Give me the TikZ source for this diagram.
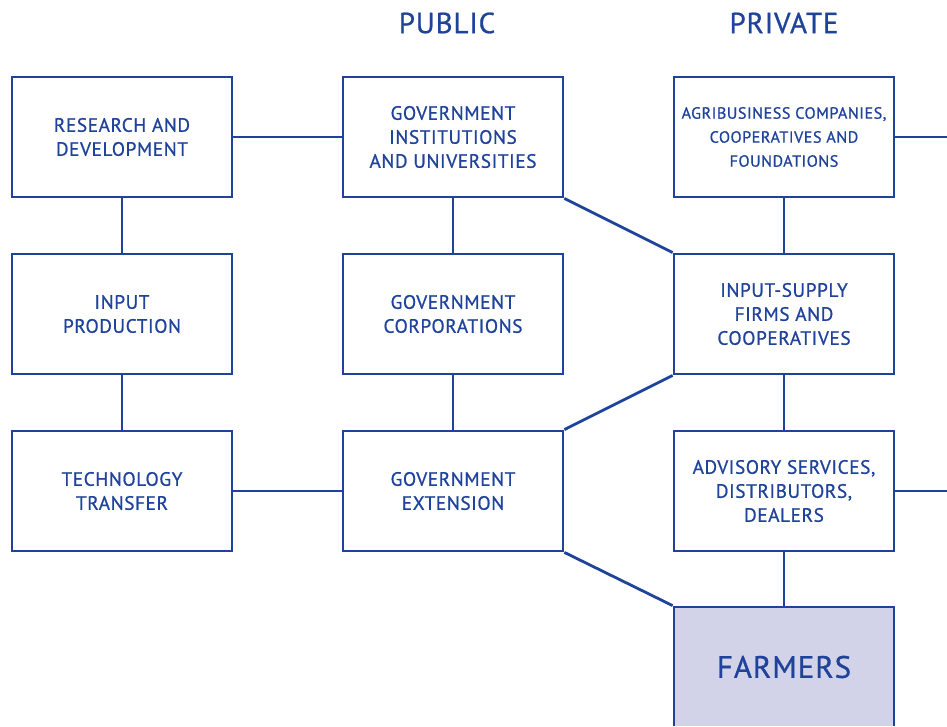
\documentclass[tikz,border=0pt]{standalone}
\usepackage{fontspec}
\setmainfont[LetterSpace=3, FakeBold=0.8]{PT Sans}
\usepackage{xcolor}
\definecolor{faoblue}{HTML}{1F429A}
\definecolor{farmfill}{HTML}{D2D3E8}
\usetikzlibrary{calc}

\begin{document}
\begin{tikzpicture}[
            x=1pt, y=-1pt,
            block/.style={draw=faoblue, line width=2.8pt, rectangle, minimum height=120pt, minimum width=220pt,
                align=center, text=faoblue, font=\fontsize{19.3}{24}\selectfont},
            head/.style={text=faoblue, font=\fontsize{29}{30}\selectfont},
            link/.style={draw=faoblue, line width=2.8pt},
        ]
            \useasboundingbox (0,0) rectangle (947,726);
            \clip (-1,-1) rectangle (948,725.5);
            \node [head] (public)  at (447,23) {PUBLIC};
            \node [head] (private) at (784,23) {PRIVATE};
            % public side
            \node [block] (rnd)     at (122,137) {RESEARCH AND\\DEVELOPMENT};
            \node [block] (inprod)  at (122,314) {INPUT\\PRODUCTION};
            \node [block] (tech)    at (122,491) {TECHNOLOGY\\TRANSFER};
            \node [block] (govinst) at (453,137) {GOVERNMENT\\INSTITUTIONS\\AND UNIVERSITIES};
            \node [block] (govcorp) at (453,314) {GOVERNMENT\\CORPORATIONS};
            \node [block] (govext)  at (453,491) {GOVERNMENT\\EXTENSION};
            % private side
            \node [block, font=\fontsize{16.2}{24}\selectfont] (agri) at (784,137)
                {AGRIBUSINESS COMPANIES,\\COOPERATIVES AND\\FOUNDATIONS};
            \node [block] (supply)   at (784,314) {INPUT-SUPPLY\\FIRMS AND\\COOPERATIVES};
            \node [block] (advisory) at (784,491) {ADVISORY SERVICES,\\DISTRIBUTORS,\\DEALERS};
            \node [block, fill=farmfill, font=\fontsize{31}{30}\selectfont] (farmers) at (784,667) {FARMERS};
            \coordinate (agriout) at (947,137);
            \coordinate (advout)  at (947,491);
            % links
            \draw [link] (rnd) -- (govinst);
            \draw [link] (rnd) -- (inprod);
            \draw [link] (inprod) -- (tech);
            \draw [link] (tech) -- (govext);
            \draw [link] (govinst) -- (govcorp);
            \draw [link] (govcorp) -- (govext);
            \draw [link] (govinst.south east) -- (supply.north west);
            \draw [link] (govext.north east) -- (supply.south west);
            \draw [link] (govext.south east) -- (farmers.north west);
            \draw [link] (agri) -- (supply);
            \draw [link] (supply) -- (advisory);
            \draw [link] (advisory) -- (farmers);
            \draw [link] (agri) -- (agriout);
            \draw [link] (advisory) -- (advout);
        \end{tikzpicture}
\end{document}
